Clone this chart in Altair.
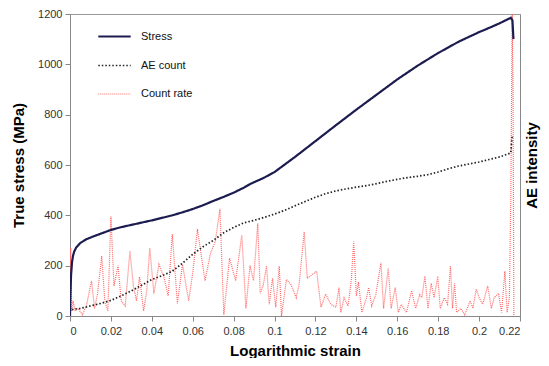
import altair as alt
import pandas as pd

stress_x = [0, 0.0002, 0.0005, 0.001, 0.0015, 0.002, 0.003, 0.005, 0.008, 0.012, 0.016, 0.02, 0.025,
            0.03, 0.035, 0.04, 0.045, 0.05, 0.055, 0.06, 0.065, 0.07, 0.075, 0.08, 0.085, 0.088, 0.095,
            0.1, 0.11, 0.12, 0.13, 0.14, 0.15, 0.16, 0.17, 0.18, 0.19, 0.2, 0.205, 0.21, 0.2155, 0.2163, 0.2168]
stress_y = [0, 80, 160, 215, 240, 255, 272, 290, 305, 318, 330, 342, 353,
            362, 371, 380, 390, 400, 412, 425, 440, 457, 473, 490, 510, 524, 550,
            572, 632, 695, 758, 820, 880, 940, 995, 1045, 1090, 1128, 1145, 1163, 1185, 1175, 1100]

ae_x = [0.001, 0.002, 0.005, 0.01, 0.015, 0.02, 0.025, 0.03, 0.035, 0.04, 0.045, 0.05, 0.055, 0.06,
        0.065, 0.07, 0.075, 0.08, 0.085, 0.09, 0.095, 0.1, 0.105, 0.11, 0.115, 0.12, 0.125, 0.13,
        0.135, 0.14, 0.145, 0.15, 0.155, 0.16, 0.165, 0.17, 0.175, 0.18, 0.185, 0.19, 0.195, 0.2,
        0.205, 0.21, 0.2155, 0.2162]
ae_y = [25, 28, 30, 40, 50, 62, 80, 100, 122, 145, 160, 178, 210, 245,
        275, 300, 330, 352, 370, 380, 392, 405, 420, 438, 455, 472, 486, 497,
        505, 512, 518, 526, 535, 543, 550, 555, 562, 572, 585, 596, 604, 612,
        622, 632, 648, 720]

rate_x = [0, 0.0003, 0.0008, 0.0015, 0.0025, 0.004, 0.006, 0.008, 0.0105, 0.012, 0.0135, 0.0155,
          0.017, 0.0185, 0.020, 0.0215, 0.0235, 0.025, 0.027, 0.0293, 0.031, 0.0325, 0.034, 0.036,
          0.0375, 0.039, 0.041, 0.0435, 0.046, 0.048, 0.050, 0.0525, 0.055, 0.058, 0.060, 0.0623,
          0.066, 0.0687, 0.071, 0.0733, 0.0752, 0.078, 0.081, 0.084, 0.086, 0.088, 0.0897, 0.0918,
          0.093, 0.0944, 0.0961, 0.0974, 0.099, 0.1006, 0.1023, 0.1034, 0.1058, 0.108, 0.1106, 0.112,
          0.1145, 0.116, 0.1177, 0.1206, 0.1227, 0.125, 0.1275, 0.13, 0.1315, 0.1324, 0.134, 0.136,
          0.1376, 0.1387, 0.14, 0.141, 0.1427, 0.145, 0.146, 0.1475, 0.1495, 0.152, 0.1533, 0.1556,
          0.157, 0.159, 0.1605, 0.162, 0.1645, 0.167, 0.169, 0.171, 0.172, 0.1735, 0.175, 0.1766,
          0.178, 0.1798, 0.181, 0.183, 0.1846, 0.186, 0.187, 0.188, 0.189, 0.191, 0.193, 0.1956,
          0.197, 0.1986, 0.2, 0.2018, 0.2042, 0.206, 0.2074, 0.2095, 0.211, 0.2126, 0.2137, 0.2148,
          0.2155, 0.2162, 0.2166, 0.2170]
rate_y = [0, 270, 20, 60, 20, 30, 5, 40, 140, 30, 90, 238,
          60, 20, 395, 120, 200, 60, 40, 258, 120, 60, 155, 20,
          100, 270, 90, 205, 152, 80, 325, 50, 205, 60, 170, 345,
          140, 250, 295, 426, 5, 230, 140, 322, 30, 200, 140, 367,
          90, 120, 198, 47, 150, 35, 198, 0, 145, 125, 73, 125,
          335, 150, 160, 178, 35, 87, 47, 35, 113, 14, 72, 40,
          150, 296, 80, 135, 14, 73, 113, 40, 85, 211, 30, 190,
          30, 113, 14, 46, 14, 100, 30, 85, 73, 158, 30, 130,
          73, 158, 30, 73, 47, 198, 30, 130, 14, 30, 5, 60,
          30, 107, 73, 47, 120, 30, 73, 90, 14, 178, 14, 73,
          465, 1200, 900, 0]

series = ["Stress", "AE count", "Count rate"]
colors = ["#1c1c50", "#222222", "#ff6a6a"]
dashes = [[1, 0], [1.5, 2], [1, 1]]
widths = [2.2, 1.2, 1]

df = pd.concat([
    pd.DataFrame({"strain": rate_x, "value": rate_y, "series": "Count rate", "o": 0}),
    pd.DataFrame({"strain": ae_x, "value": ae_y, "series": "AE count", "o": 1}),
    pd.DataFrame({"strain": stress_x, "value": stress_y, "series": "Stress", "o": 2}),
], ignore_index=True)
df["idx"] = range(len(df))

FONT = "Liberation Sans"

xscale = alt.Scale(domain=[0, 0.22], nice=False)
yscale = alt.Scale(domain=[0, 1200], nice=False)

legend = alt.Legend(title=None, orient="none", legendX=27, legendY=5, symbolType="stroke",
                    symbolSize=1050, labelFont=FONT, labelFontSize=11, labelColor="#111",
                    rowPadding=6, labelOffset=9)

lines = alt.Chart(df).mark_line(clip=True).encode(
    x=alt.X("strain:Q", scale=xscale,
            axis=alt.Axis(title="Logarithmic strain", values=[i * 0.02 for i in range(12)],
                          format="~g", grid=False, tickSize=5, labelPadding=4,
                          titlePadding=7)),
    y=alt.Y("value:Q", scale=yscale,
            axis=alt.Axis(title="True stress (MPa)", values=list(range(0, 1201, 200)),
                          format="d", grid=False, tickSize=5, labelPadding=3, titlePadding=11)),
    color=alt.Color("series:N", scale=alt.Scale(domain=series, range=colors), legend=legend),
    strokeDash=alt.StrokeDash("series:N", scale=alt.Scale(domain=series, range=dashes), legend=legend),
    strokeWidth=alt.StrokeWidth("series:N", scale=alt.Scale(domain=series, range=widths), legend=legend),
    order=alt.Order("idx:Q"),
    detail="o:N",
)

right = alt.Chart(df).mark_line(opacity=0).encode(
    x=alt.X("strain:Q", scale=xscale),
    y=alt.Y("value:Q", scale=yscale,
            axis=alt.Axis(title="AE intensity", orient="right", labels=False, ticks=False,
                          grid=False, titleAngle=270, titleBaseline="bottom", titlePadding=4,
                          titleX=19)),
)

chart = alt.layer(lines, right).resolve_scale(y="independent").properties(
    width=450, height=302,
    autosize=alt.AutoSizeParams(type="none"),
    padding={"left": 62, "top": 6, "right": 21, "bottom": 42},
).configure_axis(
    labelFont=FONT, labelFontSize=11, labelColor="#333",
    titleFont=FONT, titleFontSize=15, titleFontWeight="bold", titleColor="#000",
    domainColor="#888", tickColor="#888",
).configure_view(stroke="#999")

chart.save("out.html", embed_options={"renderer": "svg", "actions": False})
